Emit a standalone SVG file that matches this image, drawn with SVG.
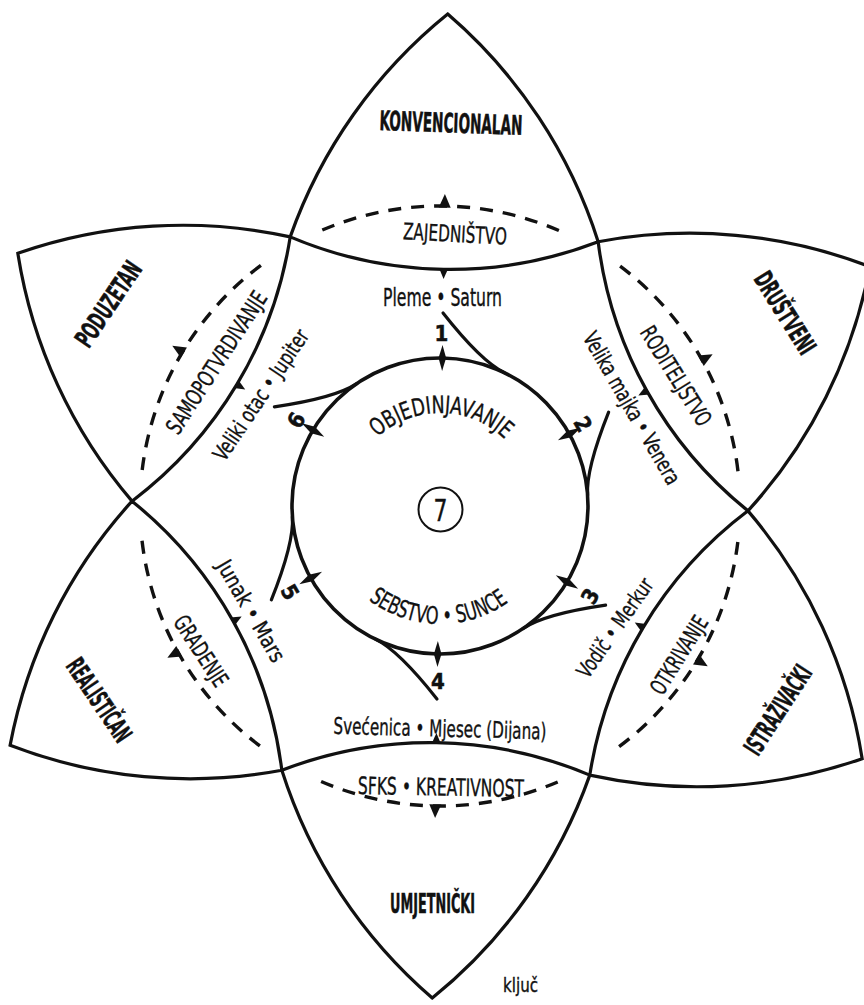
<svg xmlns="http://www.w3.org/2000/svg" width="864" height="1005" viewBox="0 0 864 1005">
<style>
.pet{fill:#fff;stroke:#111;stroke-width:3.2;stroke-linejoin:miter}
.ln{fill:none;stroke:#111;stroke-width:3.2;stroke-linecap:round}
.dash{fill:none;stroke:#111;stroke-width:3.4;stroke-dasharray:13 10}
.f{fill:#111}
.t{font-family:"Liberation Sans Narrow","DejaVu Sans Condensed","Liberation Sans",sans-serif;fill:#111;stroke:#111;stroke-width:0.35}
.b{font-weight:bold;stroke-width:0.5}
</style>
<defs>
<path id="petal" d="M286 239.26A500 500 0 0 1 440 14A500 500 0 0 1 594 239.26A410 410 0 0 1 286 239.26Z"/>
<path id="darc" d="M317.98 231.94A300 300 0 0 1 562.02 231.94"/>
<polygon id="oarr" points="440,194 446,207.5 434,207.5"/>
<polygon id="iarr" points="435.5,268.5 444.5,268.5 440,279"/>
<path id="branch" d="M502.55 371.87Q479 360.9 440 313"/>
<polygon id="tick" points="440,345 443.8,358 440,371 436.2,358"/>
<path id="tp" d="M347 506A93 93 0 0 1 533 506"/>
<path id="bp" d="M322 506A118 118 0 0 0 558 506"/>
</defs>
<rect width="864" height="1005" fill="#fff"/>

<g id="petal-konvencionalan">
<use href="#petal" class="pet" transform="rotate(0.9 440 506)"/>
<text class="t b" font-size="27" text-anchor="middle" textLength="143" lengthAdjust="spacingAndGlyphs" transform="translate(451 123) rotate(2)" y="9.5">KONVENCIONALAN</text>
<text class="t" font-size="23" text-anchor="middle" textLength="104" lengthAdjust="spacingAndGlyphs" transform="translate(455 234) rotate(3)" y="8">ZAJEDNIŠTVO</text>
</g>
<g id="petal-drustveni">
<use href="#petal" class="pet" transform="rotate(60.9 440 506)"/>
<text class="t b" font-size="26" text-anchor="middle" textLength="92" lengthAdjust="spacingAndGlyphs" transform="translate(785 313) rotate(58)" y="9">DRUŠTVENI</text>
<text class="t" font-size="23" text-anchor="middle" textLength="113" lengthAdjust="spacingAndGlyphs" transform="translate(676 376) rotate(58)" y="8">RODITELJSTVO</text>
</g>
<g id="petal-istrazivacki">
<use href="#petal" class="pet" transform="rotate(120.9 440 506)"/>
<text class="t b" font-size="26" text-anchor="middle" textLength="101" lengthAdjust="spacingAndGlyphs" transform="translate(778 710) rotate(-57)" y="9">ISTRAŽIVAČKI</text>
<text class="t" font-size="23" text-anchor="middle" textLength="88" lengthAdjust="spacingAndGlyphs" transform="translate(679 655) rotate(-58)" y="8">OTKRIVANJE</text>
</g>
<g id="petal-umjetnicki">
<use href="#petal" class="pet" transform="rotate(180.9 440 506)"/>
<text class="t b" font-size="27" text-anchor="middle" textLength="85" lengthAdjust="spacingAndGlyphs" transform="translate(432.5 903)" y="9.5">UMJETNIČKI</text>
<text class="t" font-size="24" text-anchor="middle" textLength="166" lengthAdjust="spacingAndGlyphs" transform="translate(441 787) rotate(1)" y="8.5">SFKS • KREATIVNOST</text>
</g>
<g id="petal-realistican">
<use href="#petal" class="pet" transform="rotate(-119.1 440 506)"/>
<text class="t b" font-size="26" text-anchor="middle" textLength="95" lengthAdjust="spacingAndGlyphs" transform="translate(99 700) rotate(56)" y="9">REALISTIČAN</text>
<text class="t" font-size="23" text-anchor="middle" textLength="80" lengthAdjust="spacingAndGlyphs" transform="translate(201 651) rotate(57)" y="8">GRADENJE</text>
</g>
<g id="petal-poduzetan">
<use href="#petal" class="pet" transform="rotate(-59.1 440 506)"/>
<text class="t b" font-size="26" text-anchor="middle" textLength="97" lengthAdjust="spacingAndGlyphs" transform="translate(108.5 304) rotate(-56)" y="9">PODUZETAN</text>
<text class="t" font-size="23" text-anchor="middle" textLength="165" lengthAdjust="spacingAndGlyphs" transform="translate(216.5 362.5) rotate(-57)" y="8">SAMOPOTVRDIVANJE</text>
</g>

<g id="connectors" transform="rotate(0.9 440 506)">
<g id="cycle">
<use href="#darc" class="dash"/>
<use href="#darc" class="dash" transform="rotate(60 440 506)"/>
<use href="#darc" class="dash" transform="rotate(120 440 506)"/>
<use href="#darc" class="dash" transform="rotate(180 440 506)"/>
<use href="#darc" class="dash" transform="rotate(-120 440 506)"/>
<use href="#darc" class="dash" transform="rotate(-60 440 506)"/>
<use href="#oarr" class="f"/>
<use href="#oarr" class="f" transform="rotate(60 440 506)"/>
<use href="#oarr" class="f" transform="rotate(120 440 506)"/>
<use href="#oarr" class="f" transform="rotate(180 440 506)"/>
<use href="#oarr" class="f" transform="rotate(-120 440 506)"/>
<use href="#oarr" class="f" transform="rotate(-60 440 506)"/>
<use href="#iarr" class="f"/>
<use href="#iarr" class="f" transform="rotate(60 440 506)"/>
<use href="#iarr" class="f" transform="rotate(120 440 506)"/>
<use href="#iarr" class="f" transform="rotate(180 440 506)"/>
<use href="#iarr" class="f" transform="rotate(-120 440 506)"/>
<use href="#iarr" class="f" transform="rotate(-60 440 506)"/>
</g>
<g id="branches">
<use href="#branch" class="ln"/>
<use href="#branch" class="ln" transform="rotate(60 440 506)"/>
<use href="#branch" class="ln" transform="rotate(120 440 506)"/>
<use href="#branch" class="ln" transform="rotate(180 440 506)"/>
<use href="#branch" class="ln" transform="rotate(-120 440 506)"/>
<use href="#branch" class="ln" transform="rotate(-60 440 506)"/>
</g>
</g>

<g id="labels">
<text class="t" font-size="24" text-anchor="middle" textLength="119" lengthAdjust="spacingAndGlyphs" x="442.5" y="306">Pleme • Saturn</text>
<text class="t" font-size="22" text-anchor="middle" textLength="172" lengthAdjust="spacingAndGlyphs" transform="translate(631.7 408.3) rotate(60)" y="7.5">Velika majka • Venera</text>
<text class="t" font-size="22" text-anchor="middle" textLength="116" lengthAdjust="spacingAndGlyphs" transform="translate(615 628) rotate(-55)" y="7.5">Vodič • Merkur</text>
<text class="t" font-size="23" text-anchor="middle" textLength="213" lengthAdjust="spacingAndGlyphs" transform="translate(440 729) rotate(1.5)" y="7.5">Svećenica • Mjesec (Dijana)</text>
<text class="t" font-size="22" text-anchor="middle" textLength="114" lengthAdjust="spacingAndGlyphs" transform="translate(251 611) rotate(60)" y="7.5">Junak • Mars</text>
<text class="t" font-size="22" text-anchor="middle" textLength="153" lengthAdjust="spacingAndGlyphs" transform="translate(261 395) rotate(-56)" y="7.5">Veliki otac • Jupiter</text>
</g>

<g id="center">
<g transform="rotate(0.9 440 506)">
<circle cx="440" cy="506" r="148" fill="none" stroke="#111" stroke-width="3.6"/>
<use href="#tick" class="f"/>
<use href="#tick" class="f" transform="rotate(60 440 506)"/>
<use href="#tick" class="f" transform="rotate(120 440 506)"/>
<use href="#tick" class="f" transform="rotate(180 440 506)"/>
<use href="#tick" class="f" transform="rotate(-120 440 506)"/>
<use href="#tick" class="f" transform="rotate(-60 440 506)"/>
<text class="t" font-size="24"><textPath href="#tp" startOffset="50%" text-anchor="middle" textLength="140" lengthAdjust="spacingAndGlyphs">OBJEDINJAVANJE</textPath></text>
<text class="t" font-size="24"><textPath href="#bp" startOffset="50%" text-anchor="middle" textLength="150" lengthAdjust="spacingAndGlyphs">SEBSTVO • SUNCE</textPath></text>
</g>
<circle cx="440.5" cy="509.5" r="22" fill="none" stroke="#111" stroke-width="2"/>
<text class="t" font-size="30" text-anchor="middle" textLength="14" lengthAdjust="spacingAndGlyphs" x="440.5" y="520.5">7</text>
<g class="t b" font-size="22" text-anchor="middle">
<text transform="translate(441.5 333)" y="8">1</text>
<text transform="translate(583 424) rotate(60)" y="8">2</text>
<text transform="translate(590 596) rotate(-60)" y="8">3</text>
<text transform="translate(438 681)" y="8">4</text>
<text transform="translate(290 592) rotate(60)" y="8">5</text>
<text transform="translate(296 420) rotate(-60)" y="8">6</text>
</g>
</g>

<text class="t" font-size="19" textLength="35" lengthAdjust="spacingAndGlyphs" x="503" y="992">ključ</text>
</svg>
